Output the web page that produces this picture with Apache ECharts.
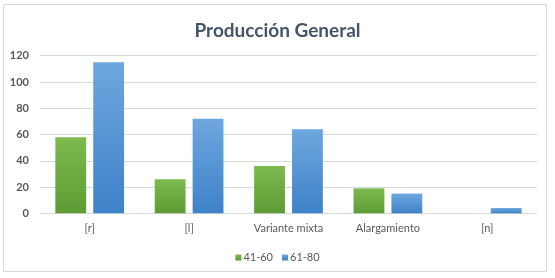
<!DOCTYPE html>
<html><head><meta charset="utf-8">
<script src="https://cdn.jsdelivr.net/npm/echarts@6/dist/echarts.min.js"></script>
<style>html,body{margin:0;padding:0;background:#fff}#c{width:555px;height:278px}</style>
</head><body><div id="c"></div>
<script>
const categories = ['[r]', '[l]', 'Variante mixta', 'Alargamiento', '[n]'];
const series4160 = [58, 26, 36, 19, 0];
const series6180 = [115, 72, 64, 15, 4];
const yTicks = [0, 20, 40, 60, 80, 100, 120];

const chart = echarts.init(document.getElementById('c'));
const grad = (a, b) => new echarts.graphic.LinearGradient(0, 0, 0, 1, [{offset: 0, color: a}, {offset: 1, color: b}]);
chart.setOption({
  animation: false,
  graphic: [{type: 'rect', shape: {x: 3.5, y: 4.5, width: 543, height: 267}, style: {fill: 'none', stroke: '#d9d9d9', lineWidth: 1}}],
  title: {text: 'Producción General', left: 'center', top: 16,
    textStyle: {fontFamily: 'Lato', fontSize: 19, fontWeight: 'bold', color: '#44546a'}},
  legend: {top: 247, left: 'center', itemWidth: 6, itemHeight: 6, itemGap: 9,
    textStyle: {fontFamily: 'Lato', fontSize: 11, color: '#595959', padding: [0, 0, 0, -3]},
    data: [{name: '41-60', icon: 'rect'}, {name: '61-80', icon: 'rect'}]},
  grid: {left: 40, right: 18, top: 55.7, bottom: 64.7},
  xAxis: {type: 'category', data: categories,
    axisLine: {lineStyle: {color: '#d9d9d9'}}, axisTick: {show: false},
    axisLabel: {fontFamily: 'Lato', fontSize: 11, color: '#595959', margin: 10}},
  yAxis: {type: 'value', min: yTicks[0], max: yTicks[yTicks.length - 1], interval: 20,
    axisLine: {show: false}, axisTick: {show: false},
    splitLine: {lineStyle: {color: '#d9d9d9'}},
    axisLabel: {fontFamily: 'Lato', fontSize: 11, fontWeight: 'bold', color: '#595959', margin: 11}},
  series: [
    {name: '41-60', type: 'bar', data: series4160, barWidth: '31%', barGap: '23%',
      itemStyle: {color: grad('#7dbb50', '#5d9b34')}},
    {name: '61-80', type: 'bar', data: series6180, barWidth: '31%',
      itemStyle: {color: grad('#6ea7df', '#3e82c8')}}
  ]
});
</script></body></html>
